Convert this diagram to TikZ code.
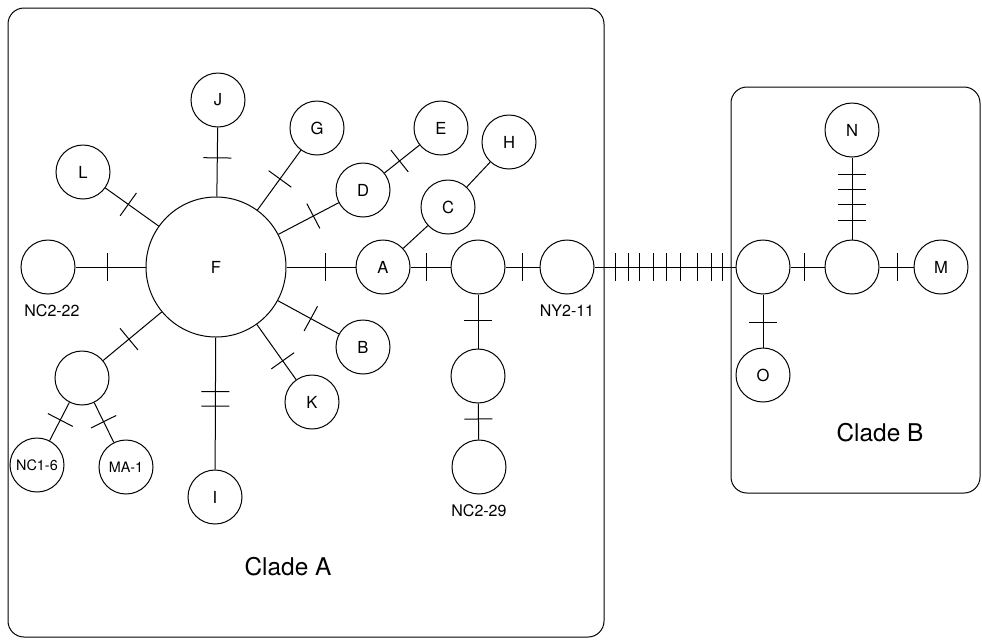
\documentclass[tikz,border=0pt]{standalone}
\usepackage{fontspec}
\setmainfont{TeX Gyre Heros}
\usetikzlibrary{positioning,decorations.markings}

\begin{document}
\begin{tikzpicture}[
  x=0.5pt, y=-0.5pt,
  line width=0.5pt,
  hap/.style={circle, draw, minimum size=27pt, inner sep=0pt, font=\fontsize{8.3}{10}\selectfont},
  bighap/.style={hap, minimum size=70pt},
  smalltxt/.style={font=\fontsize{7.2}{9}\selectfont},
  lbl/.style={font=\fontsize{8}{10}\selectfont, inner sep=1pt},
  clade/.style={font=\fontsize{12.2}{14}\selectfont},
  mut/.style={postaction={decorate, decoration={markings,
      mark=at position #1 with {\draw (0,-7pt) -- (0,7pt);}}}}
]
  \useasboundingbox (0,0) rectangle (982,639);
  % Clade boxes
  \draw[rounded corners=8pt] (8,8) rectangle (604,637);
  \draw[rounded corners=8pt] (731,87) rectangle (980,493);
  \node[clade] (cladeA) at (288,567) {Clade A};
  \node[clade] (cladeB) at (880,433) {Clade B};
  % Clade A haplotypes
  \node[bighap] (F) at (216,267) {F};
  \node[hap] (J) at (218,100) {J};
  \node[hap] (G) at (317,128) {G};
  \node[hap] (L) at (83,172) {L};
  \node[hap] (D) at (363,190) {D};
  \node[hap] (E) at (441,128) {E};
  \node[hap] (H) at (509,142) {H};
  \node[hap] (C) at (448,207) {C};
  \node[hap] (nc222) at (48,267) {};
  \node[hap] (A) at (383,267) {A};
  \node[hap] (hx1) at (478,267) {};
  \node[hap] (ny211) at (567,267) {};
  \node[hap] (B) at (363,347) {B};
  \node[hap] (K) at (312,402) {K};
  \node[hap] (I) at (215,497) {I};
  \node[hap] (hx2) at (478,376) {};
  \node[hap] (nc229) at (479,467) {};
  \node[hap] (hx3) at (82,378) {};
  \node[hap, smalltxt] (nc16) at (37,465) {NC1-6};
  \node[hap, smalltxt] (ma1) at (126,467) {MA-1};
  % labels under circles
  \node[lbl, below=4pt of nc222, xshift=2pt] (nc222lbl) {NC2-22};
  \node[lbl, below=4pt of ny211] (ny211lbl) {NY2-11};
  \node[lbl, below=4pt of nc229] (nc229lbl) {NC2-29};
  % Clade B haplotypes
  \node[hap] (hb1) at (763,267) {};
  \node[hap] (hb2) at (852,267) {};
  \node[hap] (M) at (941,267) {M};
  \node[hap] (N) at (852,130) {N};
  \node[hap] (O) at (763,375) {O};
  % Links (one bar per mutation step)
  \draw[mut=0.56] (F) -- (J);
  \draw[mut=0.52] (F) -- (G);
  \draw[mut=0.58] (F) -- (D);
  \draw[mut=0.43] (D) -- (E);
  \draw[mut=0.57] (F) -- (L);
  \draw[mut=0.55] (F) -- (nc222);
  \draw[mut=0.56] (F) -- (A);
  \draw (A) -- (C);
  \draw (C) -- (H);
  \draw[mut=0.41] (A) -- (hx1);
  \draw[mut=0.51] (hx1) -- (ny211);
  \draw[mut=0.49] (hx1) -- (hx2);
  \draw[mut=0.43] (hx2) -- (nc229);
  \draw[mut=0.54] (F) -- (B);
  \draw[mut=0.66] (F) -- (K);
  \draw[mut=0.41, mut=0.52] (F) -- (I);
  \draw[mut=0.56] (F) -- (hx3);
  \draw[mut=0.46] (hx3) -- (nc16);
  \draw[mut=0.48] (hx3) -- (ma1);
  % between the clades
  \draw[mut/.list={0.15,0.24,0.32,0.42,0.51,0.61,0.73,0.83,0.91}] (ny211) -- (hb1);
  \draw[mut=0.4] (hb1) -- (hb2);
  \draw[mut=0.54] (hb2) -- (M);
  \draw[mut/.list={0.23,0.43,0.61,0.79}] (hb2) -- (N);
  \draw[mut=0.53] (hb1) -- (O);
\end{tikzpicture}
\end{document}
